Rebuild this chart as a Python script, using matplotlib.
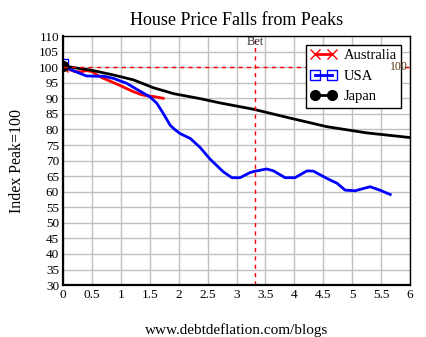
import numpy as np
import matplotlib
matplotlib.use("Agg")
import matplotlib.pyplot as plt

plt.rcParams['font.family'] = ['Liberation Serif', 'DejaVu Serif']

# years from peak -> index (peak = 100)
aus_x = [0, 0.1, 0.2, 0.3, 0.4, 0.5, 0.6, 0.7, 0.85, 1.0, 1.1, 1.22, 1.35, 1.45, 1.55, 1.65, 1.73]
aus_y = [100, 99.3, 98.6, 98.5, 98.9, 98.6, 97.3, 96.4, 95.2, 94.0, 93.1, 92.1, 91.2, 90.8, 90.6, 90.3, 90.0]

usa_x = [0, 0.05, 0.12, 0.25, 0.4, 0.55, 0.7, 0.87, 1.0, 1.1, 1.3, 1.5, 1.62, 1.73, 1.85, 1.91, 2.02,
         2.2, 2.37, 2.54, 2.77, 2.92, 3.06, 3.24, 3.35, 3.52, 3.64, 3.84, 4.01, 4.22, 4.33,
         4.56, 4.74, 4.88, 5.05, 5.31, 5.48, 5.66]
usa_y = [101, 100.2, 99.3, 98.3, 97.2, 97.1, 97.1, 96.4, 95.5, 94.8, 92.6, 90.5, 88.4, 85.2, 81.4, 80.3, 78.7,
         77.1, 74.2, 70.5, 66.4, 64.5, 64.5, 66.2, 66.7, 67.3, 66.7, 64.5, 64.5, 66.7, 66.6,
         64.3, 62.7, 60.5, 60.3, 61.6, 60.5, 59.1]

jpn_x = [0, 0.2, 0.47, 0.87, 1.22, 1.56, 1.91, 2.37, 2.72, 3.29, 3.87, 4.56, 5.25, 6.0]
jpn_y = [100.5, 99.8, 99.1, 97.5, 95.9, 93.4, 91.5, 89.9, 88.5, 86.5, 83.9, 80.9, 78.9, 77.4]

ref_level = 100
bet_year = 3.32

fig = plt.figure(figsize=(4.27, 3.37), dpi=100)
ax = fig.add_axes([0.148, 0.154, 0.812, 0.739])

ax.plot(aus_x, aus_y, color='red', lw=2, marker='x', markevery=[0], ms=7, label='Australia')
ax.plot(usa_x, usa_y, color='blue', lw=2, marker='s', mfc='none', markevery=[0], ms=7, label='USA')
ax.plot(jpn_x, jpn_y, color='black', lw=2, marker='o', markevery=[0], ms=7, label='Japan')

ax.axhline(ref_level, color='red', lw=1, ls=(0, (3, 3)))
ax.axvline(bet_year, color='red', lw=1, ls=(0, (3, 3)))
ax.text(5.66, ref_level, '100', fontsize=8.5, ha='left', va='center', color='#5a3a10', zorder=10)
ax.text(bet_year, 108, 'Bet', fontsize=9, ha='center', va='center', color='#333333')

ax.set_xlim(0, 6)
ax.set_ylim(30, 110)
ax.set_xticks(np.arange(0, 6.01, 0.5))
ax.set_xticklabels(['0', '0.5', '1', '1.5', '2', '2.5', '3', '3.5', '4', '4.5', '5', '5.5', '6'])
ax.set_yticks(np.arange(30, 111, 5))
ax.tick_params(length=0, labelsize=9.5, pad=3)
ax.grid(True, color='#c0c0c0', lw=1)
ax.set_axisbelow(True)
for s in ['top', 'right']:
    ax.spines[s].set_linewidth(1)
for s in ['left', 'bottom']:
    ax.spines[s].set_linewidth(1.6)

ax.set_title('House Price Falls from Peaks', fontsize=13, pad=8)
ax.set_ylabel('Index Peak=100', fontsize=11.5, labelpad=10)
ax.set_xlabel('www.debtdeflation.com/blogs', fontsize=11, labelpad=16)

leg = ax.legend(loc='upper right', bbox_to_anchor=(0.975, 0.965), fontsize=10.5, frameon=True,
                fancybox=False, edgecolor='black', framealpha=1, borderpad=0.3, numpoints=2,
                handlelength=1.8, handletextpad=0.5, labelspacing=0.5, borderaxespad=0)
leg.get_frame().set_linewidth(1)
leg.set_zorder(5)

fig.savefig('out.png', dpi=100)
